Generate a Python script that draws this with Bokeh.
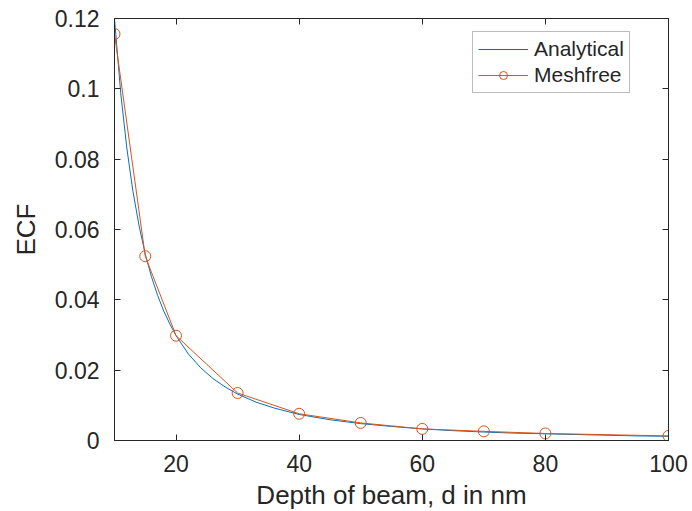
from bokeh.plotting import figure
from bokeh.models import (Range1d, LinearAxis, FixedTicker, CustomJSTickFormatter,
                          Legend, LegendItem, CustomLabelingPolicy)
from bokeh.embed import file_html
from bokeh.resources import INLINE

# ---- data ----
analytical_d = [10, 11, 12, 13, 14, 15, 16, 17, 18, 19, 20, 22, 24, 26, 28, 30, 33, 36,
                40, 45, 50, 55, 60, 65, 70, 75, 80, 85, 90, 95, 100]
analytical_ecf = [0.1200, 0.0990, 0.0832, 0.0708, 0.0610, 0.0530, 0.0466, 0.0413, 0.0368,
                  0.0331, 0.0298, 0.0246, 0.0207, 0.0176, 0.0152, 0.0132, 0.0109, 0.0092,
                  0.0074, 0.0059, 0.0048, 0.0040, 0.0033, 0.0028, 0.0024, 0.0021, 0.0019,
                  0.0017, 0.0015, 0.0013, 0.0012]
meshfree_d = [10, 15, 20, 30, 40, 50, 60, 70, 80, 100]
meshfree_ecf = [0.1156, 0.0524, 0.0298, 0.0135, 0.0076, 0.0050, 0.0033, 0.0026, 0.0020, 0.0013]
x_ticks = [20, 40, 60, 80, 100]
y_ticks = [0, 0.02, 0.04, 0.06, 0.08, 0.1, 0.12]

FONT = "Liberation Sans"
TXT = "#262626"
BLUE = "#0072BD"
ORANGE = "#D95319"

p = figure(frame_width=554, frame_height=422,
           min_border_left=114, min_border_right=24, min_border_top=18, min_border_bottom=71,
           x_range=Range1d(10, 100), y_range=Range1d(0, 0.12),
           output_backend="svg", toolbar_location=None,
           background_fill_color="white", border_fill_color="white")
p.grid.visible = False
p.outline_line_color = TXT
p.outline_line_width = 1

fmt = CustomJSTickFormatter(code="return (Math.round(tick*1000)/1000).toString();")
no_labels = CustomLabelingPolicy(code="return new Set()")

def style_axis(ax, labels=True):
    ax.axis_line_color = TXT
    ax.major_tick_line_color = TXT
    ax.major_tick_in = 6
    ax.major_tick_out = 0
    ax.minor_tick_line_color = None
    ax.major_label_text_font = FONT
    ax.major_label_text_color = TXT
    ax.axis_label_text_font = FONT
    ax.axis_label_text_color = TXT
    ax.axis_label_text_font_style = "normal"
    if labels:
        ax.major_label_text_font_size = "23px"
        ax.axis_label_text_font_size = "26px"
    else:
        ax.major_label_text_font_size = "1px"
        ax.major_label_standoff = 0
        ax.major_label_policy = no_labels

xa = p.xaxis[0]
xa.ticker = FixedTicker(ticks=x_ticks)
xa.axis_label = "Depth of beam, d in nm"
style_axis(xa)
xa.major_label_standoff = 14
xa.axis_label_standoff = 5

ya = p.yaxis[0]
ya.ticker = FixedTicker(ticks=y_ticks)
ya.formatter = fmt
ya.axis_label = "ECF"
style_axis(ya)
ya.major_label_standoff = 15
ya.axis_label_standoff = 11

top = LinearAxis(ticker=FixedTicker(ticks=x_ticks))
style_axis(top, labels=False)
p.add_layout(top, "above")
right = LinearAxis(ticker=FixedTicker(ticks=y_ticks))
style_axis(right, labels=False)
p.add_layout(right, "right")

r1 = p.line(analytical_d, analytical_ecf, line_color=BLUE, line_width=1)
r2 = p.line(meshfree_d, meshfree_ecf, line_color=ORANGE, line_width=1)
r3 = p.scatter(meshfree_d, meshfree_ecf, marker="circle", size=11,
               fill_color=None, line_color=ORANGE, line_width=1)

legend = Legend(items=[LegendItem(label="Analytical", renderers=[r1]),
                       LegendItem(label="Meshfree", renderers=[r2, r3])],
                location=(358, 347))
legend.label_text_font = FONT
legend.label_text_font_size = "21px"
legend.label_text_color = TXT
legend.border_line_color = "#7a7a7a"
legend.border_line_width = 1
legend.background_fill_color = "white"
legend.glyph_width = 50
legend.glyph_height = 20
legend.label_height = 20
legend.label_standoff = 6
legend.padding = 5
legend.spacing = 2
legend.margin = 0
p.add_layout(legend, "center")

open("out.html", "w").write(file_html(p, INLINE))
